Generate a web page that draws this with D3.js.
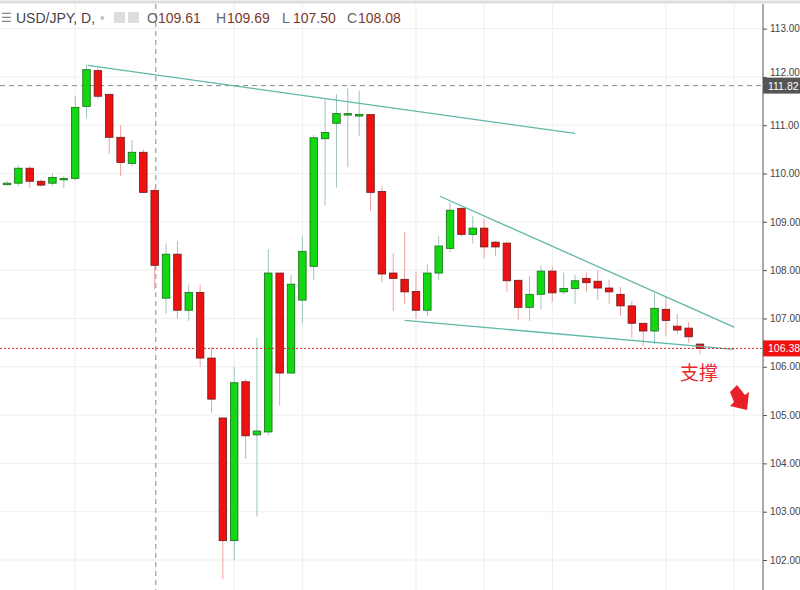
<!DOCTYPE html>
<html><head><meta charset="utf-8">
<script src="https://cdn.jsdelivr.net/npm/d3@7"></script>
<style>body{margin:0;background:#fff}svg{display:block;font-family:"Liberation Sans",Arial,sans-serif}</style>
</head><body><svg id="c" width="800" height="590"></svg>
<script>
const opens  =[109.80,109.80,110.11,109.84,109.80,109.90,109.90,111.39,112.13,111.64,110.75,110.21,110.44,109.65,107.42,108.33,107.17,107.54,106.18,104.94,102.40,105.69,104.59,104.65,107.94,105.87,107.38,108.08,110.72,111.04,111.24,111.22,111.22,109.63,107.94,107.81,107.56,107.17,107.94,108.45,109.28,108.74,108.87,108.58,108.56,107.79,107.23,107.50,107.98,107.55,107.62,107.83,107.77,107.63,107.50,107.26,106.90,106.74,107.19,106.84,106.80,106.47];
const highs  =[109.85,110.17,110.15,109.88,110.00,109.95,111.60,112.25,112.20,111.64,111.00,110.70,110.50,109.70,108.55,108.60,107.70,107.70,106.40,104.94,106.00,105.75,106.60,108.43,107.94,107.90,108.70,110.80,111.55,111.64,111.76,111.72,111.22,109.74,108.35,108.79,107.98,108.12,108.70,109.40,109.30,109.12,109.07,108.60,108.58,107.80,107.88,108.10,108.08,107.95,107.90,107.95,108.00,107.80,107.65,107.36,106.90,107.52,107.44,107.09,106.93,106.47];
const lows   =[109.75,109.74,109.70,109.73,109.75,109.70,109.85,111.15,111.55,110.40,109.95,110.15,109.60,107.60,107.10,107.00,106.95,106.00,105.05,101.60,102.00,104.10,102.90,104.58,105.20,105.87,106.90,107.80,109.34,109.71,110.13,110.77,109.22,107.75,107.15,107.30,106.99,107.05,107.80,108.37,108.70,108.55,108.24,108.30,107.55,106.97,106.95,107.19,107.34,107.50,107.30,107.55,107.38,107.30,107.05,106.60,106.43,106.47,106.64,106.68,106.50,106.26];
const closes =[109.80,110.11,109.84,109.76,109.92,109.90,111.37,112.15,111.60,110.75,110.23,110.44,109.61,108.10,108.33,107.17,107.54,106.18,105.33,102.40,105.67,104.57,104.67,107.94,105.87,107.71,108.39,110.74,110.85,111.24,111.24,111.22,109.61,107.92,107.83,107.55,107.17,107.94,108.50,109.24,108.74,108.87,108.48,108.48,107.78,107.23,107.50,107.98,107.53,107.62,107.78,107.74,107.63,107.55,107.26,106.90,106.74,107.21,106.96,106.76,106.62,106.38];
const yTicks=[102,103,104,105,106,107,108,109,110,111,112,113];
const vGrid=[6,20,26,36,42,48,58,64];
const trendLines=[[[7.1,112.24],[50,110.83]],[[38.1,109.53],[64,106.82]],[[35,106.96],[64,106.36]]];
const lastPrice=106.38, crossPrice=111.82, crossIdx=13.1;
const header=[["O","109.61",147],["H","109.69",216],["L","107.50",282],["C","108.08",347]];

const svg=d3.select("#c");
const x=d3.scaleLinear().domain([0,61]).range([7,700]);
const y=d3.scaleLinear().domain([102,113]).range([560,28.6]);
const axisX=763;
svg.append("g").selectAll("line").data(yTicks).join("line")
 .attr("x1",0).attr("x2",axisX).attr("y1",d=>y(d)).attr("y2",d=>y(d)).attr("stroke","#eeeeee");
svg.append("g").selectAll("line").data(vGrid).join("line")
 .attr("x1",d=>x(d)).attr("x2",d=>x(d)).attr("y1",4).attr("y2",590).attr("stroke","#eeeeee");
svg.append("line").attr("x1",0).attr("x2",800).attr("y1",2).attr("y2",2).attr("stroke","#ddd").attr("stroke-width",3);
svg.append("line").attr("x1",x(crossIdx)).attr("x2",x(crossIdx)).attr("y1",4).attr("y2",590).attr("stroke","#888").attr("stroke-dasharray","5,4");
svg.append("line").attr("x1",0).attr("x2",axisX).attr("y1",y(crossPrice)).attr("y2",y(crossPrice)).attr("stroke","#888").attr("stroke-dasharray","5,4");
const data=opens.map((o,i)=>({i,o,h:highs[i],l:lows[i],c:closes[i]}));
const bw=7.5;
const g=svg.append("g");
g.selectAll("line.w").data(data).join("line").attr("class","w")
 .attr("x1",d=>x(d.i)).attr("x2",d=>x(d.i)).attr("y1",d=>y(d.h)).attr("y2",d=>y(d.l))
 .attr("stroke",d=>d.c>=d.o?"#9bc6c2":"#f0a0a0");
g.selectAll("rect").data(data).join("rect")
 .attr("x",d=>x(d.i)-bw/2).attr("width",bw)
 .attr("y",d=>y(Math.max(d.o,d.c))).attr("height",d=>Math.max(1.5,Math.abs(y(d.o)-y(d.c))))
 .attr("fill",d=>d.c>=d.o?"#12d812":"#ee1111").attr("stroke",d=>d.c>=d.o?"#1a6b1a":"#6b1a1a").attr("stroke-width",0.8);
svg.append("g").selectAll("line").data(trendLines).join("line")
 .attr("x1",d=>x(d[0][0])).attr("y1",d=>y(d[0][1])).attr("x2",d=>x(d[1][0])).attr("y2",d=>y(d[1][1]))
 .attr("stroke","#5fb8a8").attr("stroke-width",1.3);
svg.append("line").attr("x1",0).attr("x2",axisX).attr("y1",y(lastPrice)).attr("y2",y(lastPrice)).attr("stroke","#e02020").attr("stroke-dasharray","2,2");
const ax=svg.append("g").attr("transform",`translate(${axisX},0)`).call(d3.axisRight(y).tickValues(yTicks).tickFormat(d3.format(".2f")).tickSize(4).tickPadding(3));
ax.select(".domain").attr("stroke","#555").attr("d","M0,4V590");
ax.selectAll("text").attr("font-size",10).attr("fill","#444").attr("font-family","Liberation Sans, Arial");
ax.selectAll(".tick line").attr("stroke","#555");
ax.selectAll(".tick").filter(d=>d===112).select("text").attr("dy","-0.1em");
svg.append("rect").attr("x",axisX).attr("y",y(crossPrice)-8).attr("width",37).attr("height",16).attr("fill","#555");
svg.append("text").attr("x",axisX+5).attr("y",y(crossPrice)+4).text(crossPrice.toFixed(2)).attr("font-size",10.5).attr("fill","#fff");
svg.append("rect").attr("x",axisX).attr("y",y(lastPrice)-8).attr("width",37).attr("height",16).attr("fill","#f01010");
svg.append("text").attr("x",axisX+5).attr("y",y(lastPrice)+4).text(lastPrice.toFixed(2)).attr("font-size",10.5).attr("fill","#fff");
svg.append("text").attr("x",680).attr("y",380).text("支撑").attr("font-family","Noto Sans CJK SC").attr("font-size",19).attr("fill","#e8282e");
svg.append("path").attr("d","M730,392 L737,385 L745,395 L749,392 L747,410 L730,406 L734,402 Z").attr("fill","#e8202a");
svg.append("text").attr("x",1).attr("y",22).text("☰").attr("font-size",12).attr("fill","#888");
svg.append("text").attr("x",16).attr("y",23).text("USD/JPY, D,").attr("font-size",14).attr("fill","#444");
svg.append("text").attr("x",100).attr("y",21).text("▾").attr("font-size",9).attr("fill","#bbb");
svg.append("rect").attr("x",114).attr("y",12).attr("width",11).attr("height",11).attr("fill","#ddd");
svg.append("rect").attr("x",128).attr("y",12).attr("width",11).attr("height",11).attr("fill","#ddd");
header.forEach(([k,v,px])=>{
 svg.append("text").attr("x",px).attr("y",23).attr("font-size",14).attr("fill","#666").text(k);
 svg.append("text").attr("x",px+11).attr("y",23).attr("font-size",14).attr("fill","#7a3a2a").text(v);
});
</script></body></html>
